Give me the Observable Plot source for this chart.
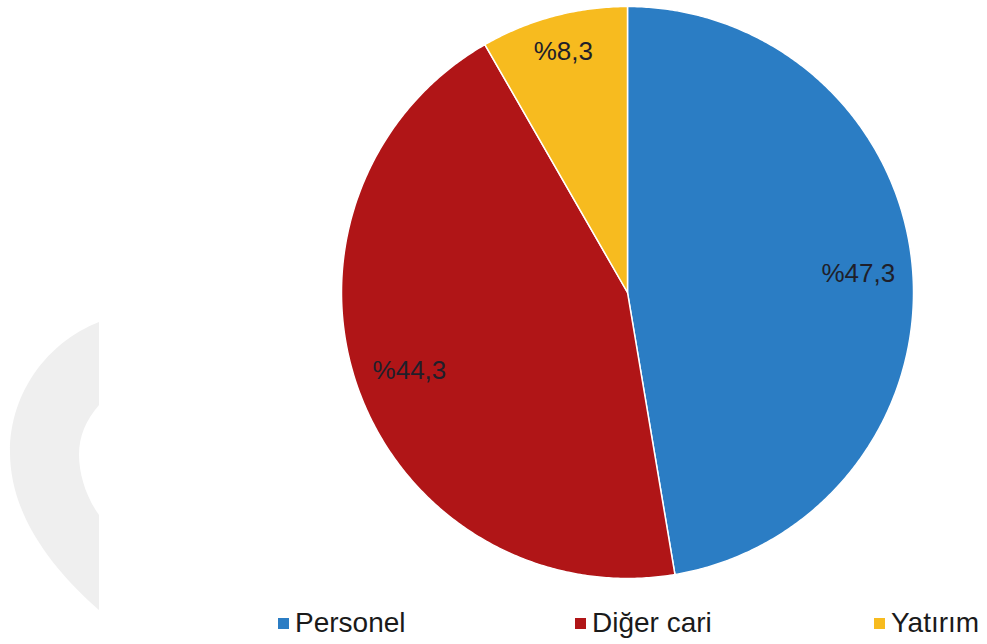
<!DOCTYPE html>
<html>
<head>
<meta charset="utf-8">
<script src="https://cdn.jsdelivr.net/npm/d3@7"></script>
<script src="https://cdn.jsdelivr.net/npm/@observablehq/plot@0.6"></script>
<style>
  html, body { margin: 0; padding: 0; background: #fff; }
  #wrap { position: relative; width: 987px; height: 644px; overflow: hidden; font-family: "Liberation Sans", Arial, sans-serif; }
  #bg { position: absolute; left: 0; top: 0; }
  #chart { position: absolute; left: 0; top: 0; }
  #legend { position: absolute; top: 606px; left: 0; width: 987px; height: 34px; }
  .item { position: absolute; top: 0; height: 34px; display: flex; align-items: center; font-size: 28px; line-height: 34px; color: #1a1a1a; }
  .sw { width: 11px; height: 11px; margin-right: 6px; }
</style>
</head>
<body>
<div id="wrap">
  <svg id="bg" width="987" height="644"><path d="M99,322 C48,342 10,392 10,452 C10,512 48,565 99,610 L99,515 C86,497 79,474 79,455 C79,436 86,420 99,405 Z" fill="#efefef"/></svg>
  <div id="chart"></div>
  <div id="legend"></div>
</div>
<script>
const categories = ["Personel", "Diğer cari", "Yatırım"];
const shares = [47.3, 44.3, 8.3];
const labels = ["%47,3", "%44,3", "%8,3"];
const colors = ["#2b7dc4", "#b01517", "#f7bb1f"];

const W = 987, H = 600, R = 286, CX = 627, CY = 292;

const data = categories.map((c, i) => ({category: c, share: shares[i], label: labels[i]}));
const total = d3.sum(shares);
let acc = 0;
const arcPts = [];
const labelPts = [];
data.forEach(d => {
  const a0 = acc / total * 2 * Math.PI;
  acc += d.share;
  const a1 = acc / total * 2 * Math.PI;
  arcPts.push({category: d.category, x: 0, y: 0});
  const n = Math.max(4, Math.ceil((a1 - a0) * 120));
  for (let k = 0; k <= n; k++) {
    const a = a0 + (a1 - a0) * k / n;
    arcPts.push({category: d.category, x: Math.sin(a), y: Math.cos(a)});
  }
  arcPts.push({category: d.category, x: 0, y: 0});
  const am = (a0 + a1) / 2;
  const lr = d.share < 10 ? 0.87 : 0.81;
  labelPts.push({category: d.category, label: d.label, x: lr * Math.sin(am), y: lr * Math.cos(am)});
});

const chart = Plot.plot({
  width: W, height: H,
  margin: 0,
  x: {domain: [-CX / R, (W - CX) / R], axis: null},
  y: {domain: [-(H - CY) / R, CY / R], axis: null},
  color: {domain: categories, range: colors},
  style: {background: "transparent"},
  marks: [
    Plot.line(arcPts, {x: "x", y: "y", z: "category", fill: "category", stroke: "white", strokeWidth: 1.5, curve: "linear"}),
    Plot.text(labelPts, {x: "x", y: "y", text: "label", fill: "#1f1f2a", fontSize: 26, fontFamily: "Liberation Sans, Arial, sans-serif"})
  ]
});
document.getElementById("chart").appendChild(chart);

const legendLefts = [278, 575, 874];
const legend = document.getElementById("legend");
categories.forEach((c, i) => {
  const it = document.createElement("div");
  it.className = "item";
  it.style.left = legendLefts[i] + "px";
  const sw = document.createElement("span");
  sw.className = "sw";
  sw.style.background = colors[i];
  it.appendChild(sw);
  it.appendChild(document.createTextNode(c));
  legend.appendChild(it);
});
</script>
</body>
</html>
